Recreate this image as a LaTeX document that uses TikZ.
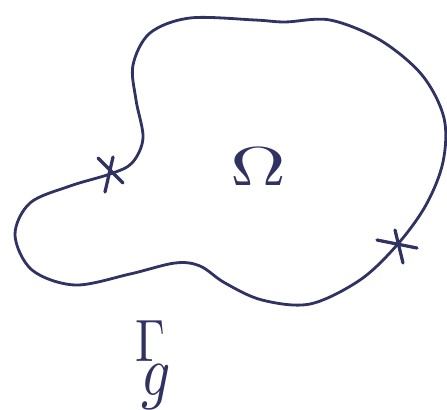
\documentclass[tikz,border=0pt]{standalone}
\usepackage{tikz}
\definecolor{ink}{RGB}{48,50,98}
\tikzset{
  curve/.style={draw=ink, line width=4pt, line join=round, line cap=round},
  cross/.style={draw=ink, line width=4.6pt, line cap=round},
  lbl/.style={text=ink, inner sep=0pt}
}
\begin{document}
\begin{tikzpicture}[x=0.05cm, y=-0.05cm]
\useasboundingbox (0,0) rectangle (447,409);
\draw[curve] plot[smooth cycle, tension=0.55] coordinates {
 (143,138) (136,100) (133,65) (150,33) (190,18) (255,20) (285,22)
 (330,20) (380,40) (422,75) (444,118) (443,162) (426,205) (397,245)
 (360,280) (310,304) (262,300) (225,283) (200,266) (175,263)
 (130,274) (75,285) (32,270) (15,235) (30,203) (70,186) (110,174) (132,163)};
\draw[cross] (98,158) -- (123,183);
\draw[cross] (113,157) -- (105,192);
\draw[cross] (377,240) -- (417,248);
\draw[cross] (395,230) -- (403,263);
\node[lbl, xscale=11, yscale=7.8] (omega) at (258,167) {$\Omega$};
\node[lbl, xscale=6.8, yscale=8.5] (gamma) at (153,365)
  {$\Gamma\kern-4.9pt\lower5.6pt\hbox{\scalebox{1.2}{$g$}}$};
\end{tikzpicture}
\end{document}
